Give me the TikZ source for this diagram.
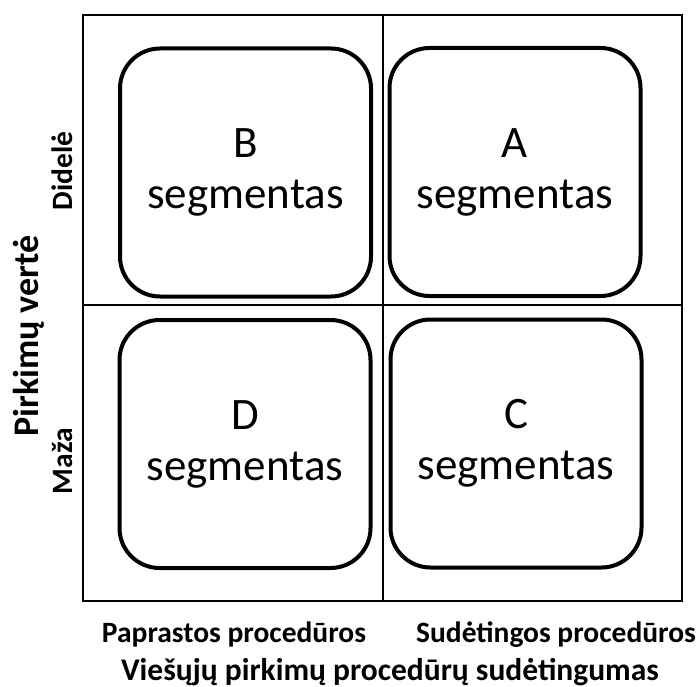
\documentclass[tikz,border=0pt]{standalone}
\usepackage{fontspec}
\setmainfont{Carlito}
\begin{document}
\begin{tikzpicture}[x=1pt, y=-1pt,
  seg/.style={draw, line width=4pt, rounded corners=40pt, minimum width=251pt, minimum height=248pt, inner sep=0pt, align=center, font=\fontsize{45}{51}\selectfont},
  axlab/.style={anchor=base, inner sep=0pt, font=\bfseries\fontsize{29.5}{34}\selectfont},
  grid/.style={line width=1.3pt}
]
  \useasboundingbox (0,0) rectangle (699,687);
  \draw[grid] (83,15) rectangle (682,601);
  \draw[grid] (383,15) -- (383,601);
  \draw[grid] (83,305) -- (682,305);
  \node[seg] (segB) at (245.5,172.5) {B\\segmentas};
  \node[seg] (segA) at (515,172) {A\\segmentas};
  \node[seg] (segD) at (245,444) {D\\segmentas};
  \node[seg] (segC) at (516,443.5) {C\\segmentas};
  \node[axlab, rotate=90] (big) at (72,171) {Didelė};
  \node[axlab, rotate=90] (small) at (72,461) {Maža};
  \node[axlab, rotate=90, font=\bfseries\fontsize{36}{42}\selectfont] (value) at (38,336) {Pirkimų vertė};
  \node[axlab] (simple) at (234,642) {Paprastos procedūros};
  \node[axlab] (complex) at (556,642) {Sudėtingos procedūros};
  \node[axlab, font=\bfseries\fontsize{31.5}{36}\selectfont] (complexity) at (390,680) {Viešųjų pirkimų procedūrų sudėtingumas};
\end{tikzpicture}
\end{document}
